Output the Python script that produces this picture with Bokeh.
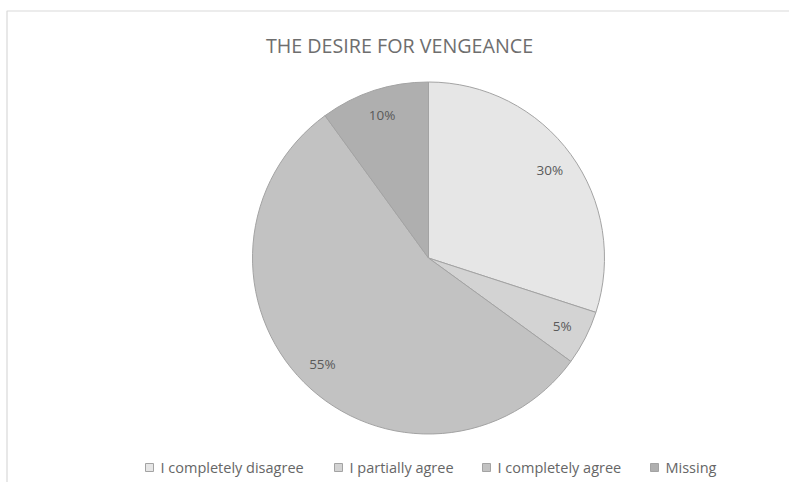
import numpy as np
from bokeh.plotting import figure
from bokeh.models import Range1d, ColumnDataSource
from bokeh.core.properties import value
from bokeh.embed import file_html
from bokeh.resources import INLINE

# ---- data ----
categories = ["I completely disagree", "I partially agree", "I completely agree", "Missing"]
shares = [30, 5, 55, 10]
pct_labels = ["30%", "5%", "55%", "10%"]
colors = ["#e6e6e6", "#d3d3d3", "#c2c2c2", "#afafaf"]
title_text = "THE DESIRE FOR VENGEANCE"

W, H = 789, 482
p = figure(width=W, height=H, output_backend="svg", toolbar_location=None,
           x_range=Range1d(0, W), y_range=Range1d(0, H),
           x_axis_type=None, y_axis_type=None, min_border=0,
           outline_line_color=None, background_fill_color="white",
           border_fill_color="white")
p.grid.visible = False

def py(y_pix):
    # picture y (top-down) -> data y (bottom-up)
    return H - y_pix

# chart frame (left + top)
p.line(x=[6.5, 6.5, W], y=[0, py(10.5), py(10.5)], line_color="#d9d9d9", line_width=1.2)

# pie
cx, cy, R = 428, py(257.5), 176
vals = np.array(shares, dtype=float)
frac = vals / vals.sum()
cum = np.concatenate([[0], np.cumsum(frac)])
start = np.pi / 2 - cum[1:] * 2 * np.pi
end = np.pi / 2 - cum[:-1] * 2 * np.pi
src = ColumnDataSource(dict(start=start, end=end, color=colors, cat=categories))
p.wedge(x=cx, y=cy, radius=R, start_angle="start", end_angle="end",
        fill_color="color", line_color="#a3a3a3", line_width=1, source=src)

# percentage labels
mid = (start + end) / 2
lr = 150
lsrc = ColumnDataSource(dict(x=cx + lr * np.cos(mid), y=cy + lr * np.sin(mid), t=pct_labels))
p.text(x="x", y="y", text="t", source=lsrc, text_align="center", text_baseline="middle",
       text_font=value("Open Sans"), text_font_size="13.5px", text_color="#5a5a5a")

# title
p.text(x=[399], y=[py(45)], text=[title_text], text_align="center", text_baseline="middle",
       text_font=value("Open Sans"), text_font_size="19.7px", text_color="#6e6e6e")

# legend (manual)
leg_sq_x = [149, 338, 486, 654]
leg_y = py(467)
p.scatter(x=leg_sq_x, y=[leg_y] * 4, marker="square", size=8,
          fill_color=colors, line_color="#a3a3a3", line_width=1)
p.text(x=[v + 11 for v in leg_sq_x], y=[leg_y] * 4, text=categories,
       text_align="left", text_baseline="middle",
       text_font=value("Open Sans"), text_font_size="14.5px", text_color="#666666")

open("out.html", "w").write(file_html(p, INLINE))
